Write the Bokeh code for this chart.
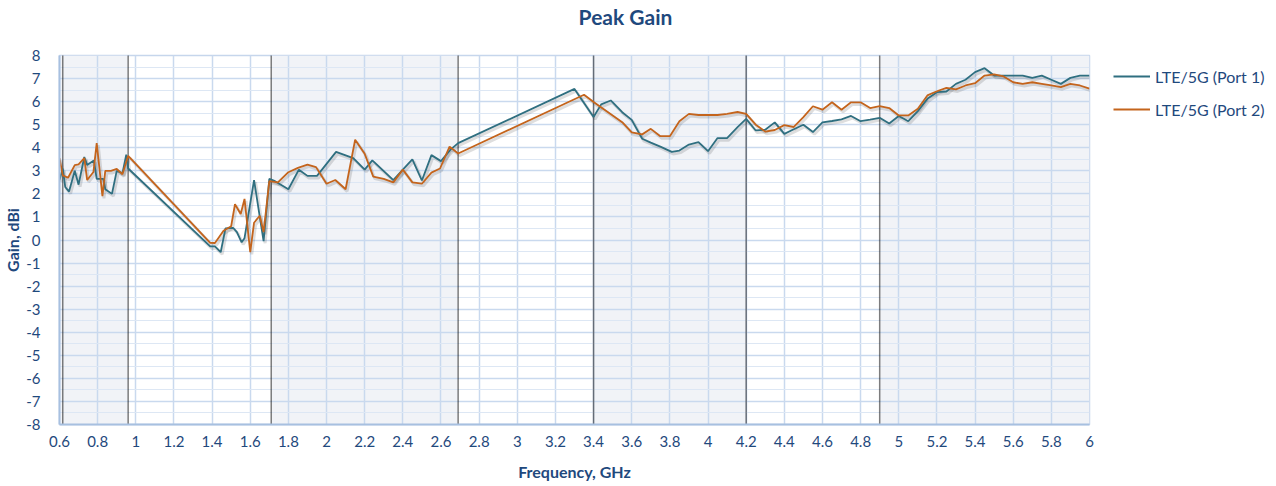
from bokeh.plotting import figure
from bokeh.models import (Range1d, FixedTicker, BoxAnnotation, Span,
                          Legend, LegendItem, ColumnDataSource, Label)
from bokeh.transform import dodge
from bokeh.embed import file_html
from bokeh.resources import INLINE

# ---------------- data ----------------
port1_freq = [0.6, 0.617, 0.63, 0.65, 0.68, 0.70, 0.73, 0.745, 0.78, 0.795, 0.83, 0.84, 0.875, 0.9, 0.93, 0.95, 0.96,
              1.39, 1.415, 1.445, 1.47, 1.51, 1.53, 1.555, 1.57, 1.62, 1.65, 1.67, 1.70, 1.73, 1.80, 1.855, 1.9, 1.95,
              2.05, 2.14, 2.2, 2.24, 2.35, 2.4, 2.45, 2.5, 2.55, 2.6, 2.65, 2.69,
              3.3, 3.4, 3.44, 3.49, 3.55, 3.6, 3.655, 3.7, 3.75, 3.81, 3.85, 3.9, 3.95, 4.0, 4.05, 4.1, 4.155, 4.2,
              4.25, 4.3, 4.35, 4.4, 4.45, 4.5, 4.55, 4.6, 4.65, 4.7, 4.75, 4.8, 4.85, 4.9, 4.95, 5.0, 5.05, 5.1,
              5.15, 5.2, 5.25, 5.3, 5.35, 5.4, 5.45, 5.5, 5.55, 5.6, 5.65, 5.7, 5.75, 5.8, 5.85, 5.9, 5.95, 6.0]
port1_gain = [2.6, 3.1, 2.3, 2.1, 3.0, 2.4, 3.6, 3.25, 3.45, 2.65, 2.65, 2.2, 2.0, 3.0, 2.9, 3.7, 3.1,
              -0.28, -0.28, -0.53, 0.5, 0.53, 0.34, -0.1, 0.08, 2.6, 1.0, -0.05, 2.65, 2.55, 2.2, 3.05, 2.78, 2.78,
              3.82, 3.55, 3.05, 3.45, 2.6, 3.05, 3.5, 2.58, 3.68, 3.42, 3.92, 4.2,
              6.55, 5.33, 5.88, 6.05, 5.54, 5.21, 4.39, 4.22, 4.05, 3.82, 3.88, 4.14, 4.24, 3.85, 4.42, 4.42, 4.89, 5.25,
              4.75, 4.78, 5.1, 4.6, 4.8, 5.0, 4.68, 5.1, 5.16, 5.23, 5.38, 5.15, 5.22, 5.3, 5.05, 5.38, 5.15, 5.59,
              6.12, 6.41, 6.44, 6.77, 6.95, 7.28, 7.45, 7.13, 7.13, 7.13, 7.13, 7.03, 7.13, 6.95, 6.77, 7.03, 7.13, 7.13]

port2_freq = [0.6, 0.617, 0.645, 0.68, 0.70, 0.73, 0.745, 0.778, 0.795, 0.825, 0.84, 0.87, 0.9, 0.93, 0.96,
              1.39, 1.415, 1.46, 1.5, 1.52, 1.55, 1.57, 1.60, 1.62, 1.65, 1.67, 1.70, 1.745, 1.8, 1.85, 1.9, 1.945,
              2.0, 2.046, 2.1, 2.15, 2.2, 2.245, 2.3, 2.35, 2.4, 2.45, 2.5, 2.55, 2.595, 2.645, 2.69,
              3.35, 3.4, 3.45, 3.5, 3.55, 3.6, 3.655, 3.7, 3.75, 3.8, 3.85, 3.9, 3.95, 4.0, 4.05, 4.1, 4.155, 4.2,
              4.25, 4.3, 4.35, 4.4, 4.45, 4.5, 4.55, 4.6, 4.65, 4.7, 4.75, 4.8, 4.85, 4.9, 4.95, 5.0, 5.05, 5.1,
              5.15, 5.2, 5.25, 5.3, 5.35, 5.4, 5.45, 5.5, 5.55, 5.6, 5.65, 5.7, 5.75, 5.8, 5.85, 5.9, 5.95, 6.0]
port2_gain = [3.55, 2.8, 2.7, 3.25, 3.28, 3.55, 2.6, 2.95, 4.2, 1.9, 3.0, 3.0, 3.08, 2.85, 3.65,
              -0.12, -0.13, 0.4, 0.6, 1.55, 1.13, 1.78, -0.53, 0.75, 1.05, 0.34, 2.55, 2.5, 2.94, 3.13, 3.27, 3.16,
              2.44, 2.6, 2.2, 4.35, 3.74, 2.75, 2.65, 2.5, 3.05, 2.5, 2.44, 2.92, 3.1, 4.05, 3.75,
              6.3, 5.98, 5.69, 5.4, 5.11, 4.67, 4.58, 4.82, 4.5, 4.5, 5.15, 5.47, 5.42, 5.42, 5.42, 5.47, 5.55, 5.47,
              5.0, 4.7, 4.77, 4.98, 4.9, 5.33, 5.8, 5.65, 5.97, 5.65, 5.97, 5.97, 5.72, 5.8, 5.72, 5.4, 5.4, 5.69,
              6.27, 6.45, 6.6, 6.53, 6.7, 6.8, 7.13, 7.18, 7.09, 6.84, 6.77, 6.84, 6.77, 6.7, 6.63, 6.77, 6.7, 6.56]

series_names = ["LTE/5G (Port 1)", "LTE/5G (Port 2)"]
chart_title = "Peak Gain"

band_starts = [0.6, 1.71, 3.4, 4.9]
band_ends = [0.96, 2.69, 4.2, 6.0]
band_markers = [0.617, 0.96, 1.71, 2.69, 3.4, 4.2, 4.9]

x_ticks = [0.6, 0.8, 1, 1.2, 1.4, 1.6, 1.8, 2, 2.2, 2.4, 2.6, 2.8, 3, 3.2, 3.4, 3.6, 3.8, 4,
           4.2, 4.4, 4.6, 4.8, 5, 5.2, 5.4, 5.6, 5.8, 6]
x_tick_labels = ["0.6", "0.8", "1", "1.2", "1.4", "1.6", "1.8", "2", "2.2", "2.4", "2.6", "2.8", "3", "3.2",
                 "3.4", "3.6", "3.8", "4", "4.2", "4.4", "4.6", "4.8", "5", "5.2", "5.4", "5.6", "5.8", "6"]
y_ticks = [-8, -7, -6, -5, -4, -3, -2, -1, 0, 1, 2, 3, 4, 5, 6, 7, 8]
y_tick_labels = ["-8", "-7", "-6", "-5", "-4", "-3", "-2", "-1", "0", "1", "2", "3", "4", "5", "6", "7", "8"]
y_minor_ticks = [-7.5, -6.5, -5.5, -4.5, -3.5, -2.5, -1.5, -0.5, 0.5, 1.5, 2.5, 3.5, 4.5, 5.5, 6.5, 7.5]

# ---------------- styling ----------------
FONT = "Lato"
TXT = "#1f497d"
C1 = "#2f6f80"
C2 = "#c4641c"

p = figure(frame_width=1030, frame_height=369,
           x_range=Range1d(0.6, 6.0), y_range=Range1d(-8, 8),
           output_backend="svg", toolbar_location=None,
           min_border_left=54, min_border_right=176, min_border_top=55, min_border_bottom=56,
           background_fill_color="white", border_fill_color="white")
p.title = None

p.outline_line_color = "#c6d6ec"
p.outline_line_width = 1.5

# bands
for s, e in zip(band_starts, band_ends):
    p.add_layout(BoxAnnotation(left=s, right=e, fill_color="#f1f3f7", fill_alpha=1.0,
                               line_color=None, level="image"))

# ticks and grids
p.xaxis.ticker = FixedTicker(ticks=x_ticks)
p.xaxis.major_label_overrides = dict(zip(x_ticks, x_tick_labels))
p.yaxis.ticker = FixedTicker(ticks=y_ticks, minor_ticks=y_minor_ticks)
p.yaxis.major_label_overrides = dict(zip(y_ticks, y_tick_labels))
p.xgrid.ticker = FixedTicker(ticks=x_ticks)
p.ygrid.ticker = FixedTicker(ticks=y_ticks, minor_ticks=y_minor_ticks)
p.xgrid.grid_line_color = "#c9d9ee"
p.xgrid.grid_line_width = 1.5
p.ygrid.grid_line_color = "#c9d9ee"
p.ygrid.grid_line_width = 1.5
p.ygrid.minor_grid_line_color = "#dde7f4"
p.ygrid.minor_grid_line_width = 1.2

# dotted band markers
for xm in band_markers:
    p.add_layout(Span(location=xm, dimension="height", line_color="black", line_width=1.5,
                      line_dash="1 1", level="underlay"))

# axes
for ax in (p.xaxis, p.yaxis):
    ax.axis_line_color = "#a7c0e0"
    ax.axis_line_width = 2
    ax.major_tick_line_color = None
    ax.minor_tick_line_color = None
    ax.major_label_text_font = FONT
    ax.major_label_text_font_size = "15px"
    ax.major_label_text_color = TXT
    ax.axis_label_text_font = FONT
    ax.axis_label_text_font_size = "16px"
    ax.axis_label_text_font_style = "bold"
    ax.axis_label_text_color = TXT
p.xaxis.axis_label = "Frequency, GHz"
p.yaxis.axis_label = "Gain, dBi"
p.xaxis.major_label_standoff = 5
p.xaxis.axis_label_standoff = 12
p.yaxis.major_label_standoff = 13
p.yaxis.axis_label_standoff = 1

# title as a label in the top border
p.add_layout(Label(x=566, y=39, x_units="screen", y_units="screen", text=chart_title,
                   text_align="center", text_baseline="middle",
                   text_font=FONT, text_font_size="21px", text_font_style="bold", text_color=TXT),
             "above")

# data
src1 = ColumnDataSource(dict(f=port1_freq, g=port1_gain))
src2 = ColumnDataSource(dict(f=port2_freq, g=port2_gain))

for src in (src1, src2):
    p.line(x=dodge("f", 0.008), y=dodge("g", -0.09), source=src,
           line_color="black", line_alpha=0.13, line_width=3)

r1 = p.line(x="f", y="g", source=src1, line_color=C1, line_width=1.8)
r2 = p.line(x="f", y="g", source=src2, line_color=C2, line_width=1.8)

legend = Legend(items=[LegendItem(label=series_names[0], renderers=[r1]),
                       LegendItem(label=series_names[1], renderers=[r2])],
                location=(24, 305), padding=10, margin=0, spacing=13,
                glyph_width=37, glyph_height=20, label_height=20, label_standoff=5,
                label_text_font=FONT, label_text_font_size="16px", label_text_color=TXT,
                border_line_color=None, background_fill_alpha=0)
p.add_layout(legend, "right")

open("out.html", "w").write(file_html(p, INLINE))
